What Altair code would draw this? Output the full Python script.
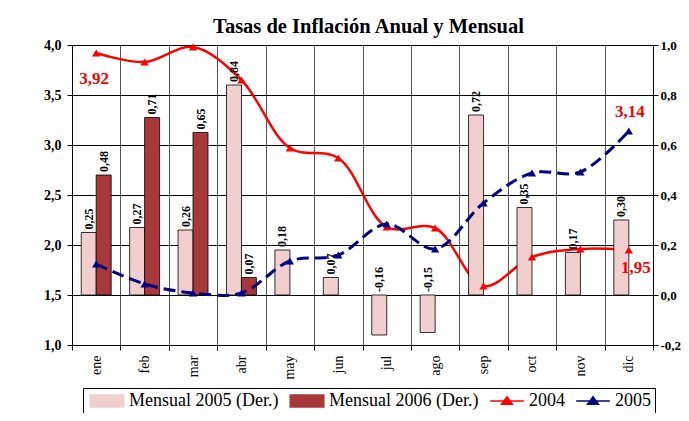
import altair as alt
import pandas as pd

# ---------------- data ----------------
months = ["ene", "feb", "mar", "abr", "may", "jun", "jul", "ago", "sep", "oct", "nov", "dic"]
mensual_2005 = [0.25, 0.27, 0.26, 0.84, 0.18, 0.07, -0.16, -0.15, 0.72, 0.35, 0.17, 0.30]
mensual_2006 = [0.48, 0.71, 0.65, 0.07]
anual_2004 = [3.92, 3.83, 3.98, 3.65, 2.97, 2.87, 2.18, 2.17, 1.59, 1.88, 1.96, 1.95]
anual_2005 = [1.81, 1.61, 1.52, 1.52, 1.84, 1.90, 2.21, 1.96, 2.42, 2.72, 2.73, 3.14]
series = ["Mensual 2005 (Der.)", "Mensual 2006 (Der.)", "2004", "2005"]
series_colors = ["#f2cfcf", "#a8383a", "#ff0000", "#000080"]
left_ticks = [1.0, 1.5, 2.0, 2.5, 3.0, 3.5, 4.0]
right_ticks = [-0.2, 0.0, 0.2, 0.4, 0.6, 0.8, 1.0]


def fmt(v):
    return f"{v:.2f}".replace(".", ",")


bar_rows = []
for m, v in zip(months, mensual_2005):
    bar_rows.append({"mes": m, "serie": series[0], "v": v, "ly": max(v, 0), "lab": fmt(v)})
for m, v in zip(months, mensual_2006):
    bar_rows.append({"mes": m, "serie": series[1], "v": v, "ly": max(v, 0), "lab": fmt(v)})
bars_df = pd.DataFrame(bar_rows)

line_rows = []
for m, a, b in zip(months, anual_2004, anual_2005):
    line_rows.append({"mes": m, "serie": "2004", "v": a, "lab": fmt(a)})
    line_rows.append({"mes": m, "serie": "2005", "v": b, "lab": fmt(b)})
lines_df = pd.DataFrame(line_rows)

serif = "Liberation Serif"
num_label = "replace(replace(format(datum.value, '.1f'), '.', ','), '\u2212', '-')"

# ---------------- scales / axes ----------------
x_enc = alt.X(
    "mes:N",
    scale=alt.Scale(domain=months, paddingInner=0, paddingOuter=0),
    axis=alt.Axis(
        title=None, labelAngle=270, labelFont=serif, labelFontSize=14, labelColor="black",
        tickBand="extent", grid=True, gridColor="#555555", gridWidth=1,
        domainColor="black", tickColor="black", tickSize=5, labelPadding=5,
    ),
)
xoff_enc = alt.XOffset(
    "serie:N", scale=alt.Scale(domain=series[:2], paddingInner=0, paddingOuter=0.62)
)

right_axis = alt.Axis(
    orient="right", title=None, values=right_ticks, grid=False,
    labelExpr=num_label,
    labelFont=serif, labelFontSize=13, labelFontWeight="bold", labelColor="black",
    domainColor="black", tickColor="black", tickSize=5, labelPadding=2,
)
left_axis = alt.Axis(
    orient="left", title=None, values=left_ticks, grid=True, gridColor="black", gridWidth=1,
    labelExpr=num_label,
    labelFont=serif, labelFontSize=14, labelFontWeight="bold", labelColor="black",
    domainColor="black", tickColor="black", tickSize=5, labelPadding=6,
)


def right_scale():
    return alt.Scale(domain=[-0.2, 1.0], nice=False, zero=False)


def left_scale():
    return alt.Scale(domain=[1.0, 4.0], nice=False, zero=False)


is_line = "(datum.value == '2004' || datum.value == '2005')"
legend = alt.Legend(
    title=None, orient="none", legendX=11, legendY=343, direction="horizontal",
    columns=4, gridAlign="none", columnPadding=8,
    strokeColor="black", fillColor="white", padding=4,
    labelFont=serif, labelFontSize=18, labelColor="black", labelOffset=13,
    symbolSize=144, symbolOffset=11, symbolStrokeWidth=1.5,
    symbolType={"expr": f"{is_line} ? 'M-2.8,0H2.8M-0.9,0.55L0,-0.7L0.9,0.55Z' : 'M-2.8,-1H2.8V1H-2.8Z'"},
)
color_enc = alt.Color("serie:N", scale=alt.Scale(domain=series, range=series_colors), legend=legend)

# ---------------- monthly bars (right axis) ----------------
bars = alt.Chart(bars_df).mark_bar(width=15, stroke="black", strokeWidth=0.8).encode(
    x=x_enc,
    xOffset=xoff_enc,
    y=alt.Y("v:Q", stack=None, scale=right_scale(), axis=right_axis),
    y2=alt.datum(0),
    color=color_enc,
)
bar_text = alt.Chart(bars_df).mark_text(
    angle=270, align="left", baseline="middle", dx=3,
    font=serif, fontSize=12, fontWeight="bold", color="black",
).encode(
    x=x_enc,
    xOffset=xoff_enc,
    y=alt.Y("ly:Q", scale=right_scale(), axis=None),
    text="lab:N",
)

# ---------------- annual lines (left axis) ----------------
base_lines = alt.Chart(lines_df)
line04 = base_lines.transform_filter(alt.datum.serie == "2004").mark_line(
    interpolate="catmull-rom", strokeWidth=2.5
).encode(x=x_enc, y=alt.Y("v:Q", scale=left_scale(), axis=left_axis), color=color_enc)
line05 = base_lines.transform_filter(alt.datum.serie == "2005").mark_line(
    interpolate="catmull-rom", strokeWidth=3, strokeDash=[12, 6]
).encode(x=x_enc, y=alt.Y("v:Q", scale=left_scale(), axis=None), color=color_enc)
points = base_lines.mark_point(shape="triangle-up", filled=True, size=70, opacity=1).encode(
    x=x_enc, y=alt.Y("v:Q", scale=left_scale(), axis=None), color=color_enc
)

lab_style = dict(font=serif, fontSize=17, fontWeight="bold", color="#ff0000", baseline="middle")
lab_ene04 = base_lines.transform_filter(
    (alt.datum.serie == "2004") & (alt.datum.mes == months[0])
).mark_text(dx=-2, dy=26, **lab_style).encode(
    x=x_enc, y=alt.Y("v:Q", scale=left_scale(), axis=None), text="lab:N")
lab_dic05 = base_lines.transform_filter(
    (alt.datum.serie == "2005") & (alt.datum.mes == months[-1])
).mark_text(dx=1, dy=-19, **lab_style).encode(
    x=x_enc, y=alt.Y("v:Q", scale=left_scale(), axis=None), text="lab:N")
lab_dic04 = base_lines.transform_filter(
    (alt.datum.serie == "2004") & (alt.datum.mes == months[-1])
).mark_text(dx=7, dy=18, **lab_style).encode(
    x=x_enc, y=alt.Y("v:Q", scale=left_scale(), axis=None), text="lab:N")

chart = (
    alt.layer(line04, bars, bar_text, line05, points, lab_ene04, lab_dic05, lab_dic04)
    .resolve_scale(y="independent")
    .properties(
        width=581,
        height=300,
        autosize=alt.AutoSizeParams(type="none"),
        padding={"left": 64, "top": 37, "right": 28, "bottom": 68},
        title=alt.TitleParams(
            "Tasas de Inflación Anual y Mensual", font=serif, fontSize=20.5, fontWeight="bold",
            color="black", anchor="middle", baseline="alphabetic", offset=6, dx=6, dy=21,
        ),
        background="white",
    )
    .configure_view(stroke="black", strokeWidth=1)
)

chart.save("out.html", embed_options={"renderer": "svg", "actions": False})
